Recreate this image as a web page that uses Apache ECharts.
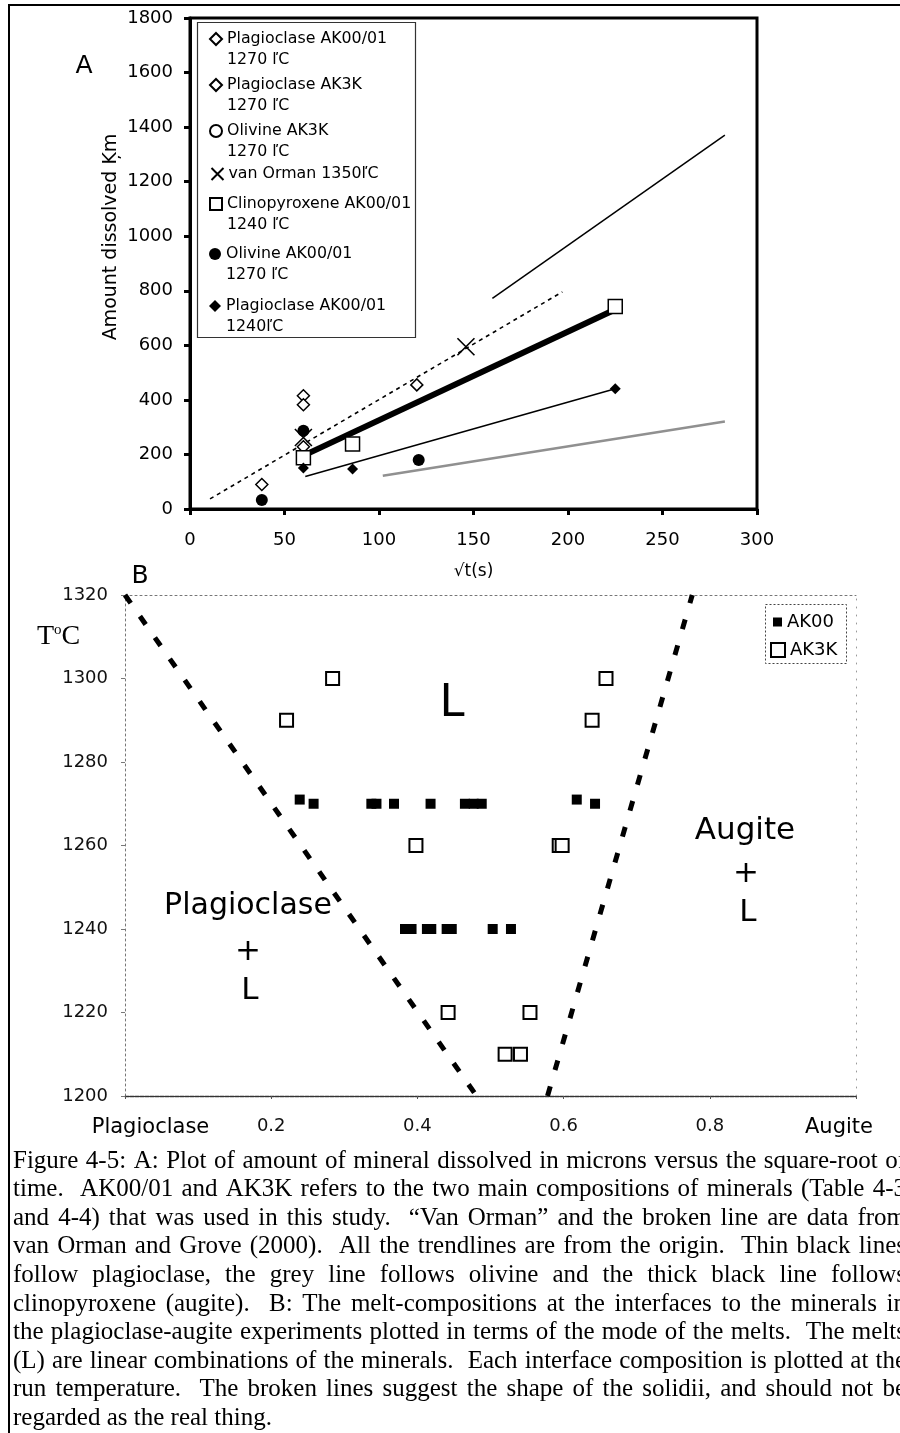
<!DOCTYPE html>
<html><head><meta charset="utf-8">
<script src="https://cdn.jsdelivr.net/npm/echarts@6/dist/echarts.min.js"></script>
<style>html,body{margin:0;padding:0;background:#fff}#c{width:900px;height:1433px}</style>
</head><body><div id="c"></div>
<script>
// ================= DATA =================
// Panel A : amount dissolved (µm) vs sqrt(t) (s^0.5)
const plagAK00_1270 = [[38, 90], [60, 415], [120, 455]];
const plagAK3K_1270 = [[60, 382], [60, 228]];
const olivAK3K_1270 = [];
const vanOrman1350 = [[60, 262], [146, 595]];
const cpxAK00_1240 = [[60, 188], [86, 238], [225, 742]];
const olivAK00_1270 = [[38, 33], [60, 287], [121, 180]];
const plagAK00_1240 = [[60, 150], [86, 147], [225, 441]];
// trend lines (from origin, drawn over the fitted range)
const trendCpx = [[62, 202], [223, 725]];
const trendPlag1240 = [[61, 119], [225, 441]];
const trendPlag1270 = [[160, 772], [283, 1371]];
const trendOlivine = [[102, 122], [283, 321]];
const trendVanOrman = [[10.6, 37], [197, 796]];

// Panel B : interface melt composition (mode) vs temperature
const ak00 = [[0.239, 1271], [0.258, 1270], [0.337, 1270], [0.344, 1270], [0.368, 1270], [0.418, 1270],
  [0.465, 1270], [0.477, 1270], [0.488, 1270], [0.618, 1271], [0.643, 1270],
  [0.383, 1240], [0.392, 1240], [0.413, 1240], [0.419, 1240], [0.440, 1240], [0.447, 1240],
  [0.503, 1240], [0.528, 1240]];
const ak3k = [[0.284, 1300], [0.221, 1290], [0.658, 1300], [0.639, 1290], [0.398, 1260],
  [0.594, 1260], [0.598, 1260], [0.442, 1220], [0.554, 1220], [0.520, 1210], [0.541, 1210]];
const solidusPlag = [[0, 1320], [0.481, 1200]];
const solidusAug = [[0.578, 1200], [0.776, 1320]];
const bEndLabels = ['Plagioclase', 'Augite'];

// Legend names panel A
const namesA = [
  'Plagioclase AK00/01\n1270 ľC',
  'Plagioclase AK3K\n1270 ľC',
  'Olivine AK3K\n1270 ľC',
  'van Orman 1350ľC',
  'Clinopyroxene AK00/01\n1240 ľC',
  'Olivine AK00/01\n1270 ľC',
  'Plagioclase AK00/01\n1240ľC'
];

const captionLines = [
  'Figure 4-5: A: Plot of amount of mineral dissolved in microns versus the square-root of',
  'time.  AK00/01 and AK3K refers to the two main compositions of minerals (Table 4-3',
  'and 4-4) that was used in this study.  \u201CVan Orman\u201D and the broken line are data from',
  'van Orman and Grove (2000).  All the trendlines are from the origin.  Thin black lines',
  'follow plagioclase, the grey line follows olivine and the thick black line follows',
  'clinopyroxene (augite).  B: The melt-compositions at the interfaces to the minerals in',
  'the plagioclase-augite experiments plotted in terms of the mode of the melts.  The melts',
  '(L) are linear combinations of the minerals.  Each interface composition is plotted at the',
  'run temperature.  The broken lines suggest the shape of the solidii, and should not be',
  'regarded as the real thing.'
];

// ================= CHART =================
const FONT = 'DejaVu Sans';
const chart = echarts.init(document.getElementById('c'), null, {renderer: 'canvas', width: 900, height: 1433});
const openStyle = {color: '#fff', borderColor: '#000', borderWidth: 1.5, opacity: 1};
const X_PATH = 'path://M0,0L10,10M10,0L0,10';

function sc(name, data, symbol, size, itemStyle) {
  return {type: 'scatter', name, data, symbol, symbolSize: size, xAxisIndex: 0, yAxisIndex: 0,
    itemStyle: Object.assign({opacity: 1}, itemStyle), z: 5, emphasis: {disabled: true}, animation: false};
}
function ln(name, data, xi, lineStyle, z) {
  return {type: 'line', name, data, xAxisIndex: xi, yAxisIndex: xi, symbol: 'none', showSymbol: false,
    lineStyle, z: z || 3, silent: true, animation: false, emphasis: {disabled: true}};
}

const series = [
  ln('trend-vanorman', trendVanOrman, 0, {color: '#000', width: 1.6, type: [4, 4]}),
  ln('trend-olivine', trendOlivine, 0, {color: '#909090', width: 2.5}),
  ln('trend-plag1240', trendPlag1240, 0, {color: '#000', width: 1.5}),
  ln('trend-plag1270', trendPlag1270, 0, {color: '#000', width: 1.5}),
  ln('trend-cpx', trendCpx, 0, {color: '#000', width: 6}),
  sc(namesA[0], plagAK00_1270, 'diamond', 12, openStyle),
  sc(namesA[1], plagAK3K_1270, 'diamond', 12, openStyle),
  sc(namesA[2], olivAK3K_1270, 'circle', 12, openStyle),
  sc(namesA[3], vanOrman1350, X_PATH, 17, {color: 'none', borderColor: '#000', borderWidth: 1.6}),
  sc(namesA[4], cpxAK00_1240, 'rect', 14, openStyle),
  sc(namesA[5], olivAK00_1270, 'circle', 12, {color: '#000'}),
  sc(namesA[6], plagAK00_1240, 'diamond', 11, {color: '#000'}),
  ln('solidus-plag', solidusPlag, 1, {color: '#000', width: 5, type: [10, 16], cap: 'butt'}),
  ln('solidus-aug', solidusAug, 1, {color: '#000', width: 5, type: [10, 17], cap: 'butt'}),
  {type: 'scatter', name: 'AK00', data: ak00, symbol: 'rect', symbolSize: 10, xAxisIndex: 1, yAxisIndex: 1,
    itemStyle: {color: '#000', opacity: 1}, z: 5, emphasis: {disabled: true}},
  {type: 'scatter', name: 'AK3K', data: ak3k, symbol: 'rect', symbolSize: 13, xAxisIndex: 1, yAxisIndex: 1,
    itemStyle: {color: '#fff', borderColor: '#000', borderWidth: 2, opacity: 1}, z: 6, emphasis: {disabled: true}}
];

// legends A (one per entry to control vertical placement; first text line aligned with icon)
const legendLine1Y = [39, 85, 131, 174, 204, 254, 306];
const LEG_LH = 20.5;
const legends = namesA.map((n, i) => {
  const two = n.indexOf('\n') >= 0;
  return {
    left: 209, top: legendLine1Y[i] - (two ? 1.5 * LEG_LH : 0.5 * LEG_LH), orient: 'vertical', padding: 0, itemGap: 0,
    itemWidth: 12, itemHeight: 12, selectedMode: false, data: [n],
    formatter: nm => (nm.indexOf('\n') >= 0 ? ' \n' + nm : nm),
    textStyle: {fontFamily: FONT, fontSize: 15.8, lineHeight: LEG_LH, color: '#000'}
  };
});
legends.push({left: 773, top: 612, orient: 'vertical', padding: 0, itemWidth: 9, itemHeight: 9,
  selectedMode: false, data: ['AK00'], textStyle: {fontFamily: FONT, fontSize: 18, lineHeight: 20, color: '#000'}});
legends.push({left: 770, top: 640, orient: 'vertical', padding: 0, itemWidth: 14, itemHeight: 14, itemGap: 0,
  selectedMode: false, data: ['AK3K'], textStyle: {fontFamily: FONT, fontSize: 18, lineHeight: 20, color: '#000'}});

const plain = v => String(v);
const labelA = {fontFamily: FONT, fontSize: 18, color: '#000', showMinLabel: true, showMaxLabel: true, formatter: plain};
const labelB = {fontFamily: FONT, fontSize: 18, color: '#111', showMinLabel: true, showMaxLabel: true, formatter: plain};

const graphics = [];
// outer frame
graphics.push({type: 'polyline', shape: {points: [[910, 5], [9, 5], [9, 1440]]},
  style: {stroke: '#000', lineWidth: 2, fill: null}, z: 50, silent: true});
// legend boxes
graphics.push({type: 'rect', shape: {x: 197.5, y: 22.5, width: 218, height: 315},
  style: {fill: 'none', stroke: '#333', lineWidth: 1.2}, z: 50, silent: true});
graphics.push({type: 'rect', shape: {x: 765.5, y: 604.5, width: 81, height: 59},
  style: {fill: 'none', stroke: '#444', lineWidth: 1, lineDash: [2, 2]}, z: 50, silent: true});
function txt(text, x, y, size, opts) {
  graphics.push(Object.assign({type: 'text', x, y, silent: true, z: 30,
    style: Object.assign({text, fontSize: size, fontFamily: FONT, fill: '#000', align: 'center', verticalAlign: 'middle'}, (opts && opts.style) || {})},
    (opts && opts.el) || {}));
}
txt('A', 84, 66, 25);
txt('B', 140, 576, 25);
txt('Amount dissolved Ķm', 111, 237, 19, {el: {rotation: Math.PI / 2}});
txt('L', 452, 704, 45);
txt('Augite', 745, 831, 31);
txt('+', 746, 874, 31);
txt('L', 748, 913, 31);
txt('Plagioclase', 248, 906, 30);
txt('+', 248, 952, 31);
txt('L', 250, 991, 31);
graphics.push({type: 'text', x: 37, y: 637, silent: true, z: 30,
  style: {text: '{t|T}{o|o}{t|C}', align: 'left', verticalAlign: 'middle',
    rich: {t: {fontFamily: 'Liberation Serif', fontSize: 28, fill: '#000', lineHeight: 28},
      o: {fontFamily: 'Liberation Serif', fontSize: 15, fill: '#000', verticalAlign: 'top', lineHeight: 15}}}});

// caption (justified)
const capSize = 25, capFamily = 'Liberation Serif';
const mctx = document.createElement('canvas').getContext('2d');
mctx.font = capSize + 'px ' + capFamily;
const CAP_L = 13, CAP_R = 906, CAP_Y0 = 1161, CAP_DY = 28.6;
captionLines.forEach((line, i) => {
  const y = CAP_Y0 + i * CAP_DY;
  const last = i === captionLines.length - 1;
  const parts = line.split(/( +)/);
  const words = [], gaps = [];
  parts.forEach((p, k) => { if (k % 2 === 0) words.push(p); else gaps.push(p.length); });
  const widths = words.map(w => mctx.measureText(w).width);
  const wsum = widths.reduce((s, w) => s + w, 0);
  const gsum = gaps.reduce((s, g) => s + g, 0);
  const unit = last ? mctx.measureText(' ').width : (CAP_R - CAP_L - wsum) / gsum;
  let x = CAP_L;
  words.forEach((w, k) => {
    graphics.push({type: 'text', x, y, silent: true, z: 30,
      style: {text: w, fontSize: capSize, fontFamily: capFamily, fill: '#000', align: 'left', verticalAlign: 'middle'}});
    x += widths[k] + (k < gaps.length ? gaps[k] * unit : 0);
  });
});

const option = {
  animation: false,
  backgroundColor: '#fff',
  textStyle: {fontFamily: FONT},
  grid: [
    {left: 190, top: 18, width: 567, height: 491, show: true, borderColor: '#000', borderWidth: 3, backgroundColor: 'transparent'},
    {left: 125, top: 595, width: 731, height: 501, show: false}
  ],
  xAxis: [
    {gridIndex: 0, type: 'value', min: 0, max: 300, interval: 50,
      axisLine: {show: true, onZero: false, lineStyle: {color: '#000', width: 3}},
      axisTick: {show: true, inside: false, length: 6, lineStyle: {color: '#000', width: 3}},
      axisLabel: Object.assign({margin: 22}, labelA), splitLine: {show: false},
      name: '√t(s)', nameLocation: 'middle', nameGap: 54,
      nameTextStyle: {fontFamily: FONT, fontSize: 17, color: '#000'}},
    {gridIndex: 1, type: 'value', min: 0, max: 1, interval: 0.2,
      axisLine: {show: true, onZero: false, lineStyle: {color: '#333', width: 1.3, type: [4, 1]}},
      axisTick: {show: true, inside: false, length: 3, lineStyle: {color: '#555', width: 1}},
      axisLabel: Object.assign({}, labelB, {margin: 21,
        formatter: v => v === 0 ? '{e|' + bEndLabels[0] + '}' : (v === 1 ? '{f|' + bEndLabels[1] + '}' : '{n|' + v.toFixed(1) + '}'),
        rich: {e: {fontFamily: FONT, fontSize: 21, color: '#000', padding: [0, 0, 0, 51]},
          f: {fontFamily: FONT, fontSize: 21, color: '#000', padding: [0, 34, 0, 0]},
          n: {fontFamily: FONT, fontSize: 18, color: '#111'}}}),
      splitLine: {show: false}},
    {gridIndex: 1, type: 'value', position: 'top', min: 0, max: 1, interval: 0.2,
      axisLine: {show: true, onZero: false, lineStyle: {color: '#777', width: 1, type: [2, 3]}},
      axisTick: {show: false}, axisLabel: {show: false}, splitLine: {show: false}}
  ],
  yAxis: [
    {gridIndex: 0, type: 'value', min: 0, max: 1800, interval: 200,
      axisLine: {show: true, onZero: false, lineStyle: {color: '#000', width: 3}},
      axisTick: {show: true, inside: false, length: 6, lineStyle: {color: '#000', width: 3}},
      axisLabel: Object.assign({margin: 17}, labelA), splitLine: {show: false}},
    {gridIndex: 1, type: 'value', min: 1200, max: 1320, interval: 20,
      axisLine: {show: true, onZero: false, lineStyle: {color: '#777', width: 1, type: [2, 3]}},
      axisTick: {show: true, inside: false, length: 4, lineStyle: {color: '#777', width: 1}},
      axisLabel: Object.assign({margin: 17}, labelB), splitLine: {show: false}},
    {gridIndex: 1, type: 'value', position: 'right', min: 1200, max: 1320, interval: 20,
      axisLine: {show: true, onZero: false, lineStyle: {color: '#999', width: 1, type: [1, 7]}},
      axisTick: {show: false}, axisLabel: {show: false}, splitLine: {show: false}}
  ],
  legend: legends,
  series,
  graphic: graphics
};
chart.setOption(option);
</script></body></html>
